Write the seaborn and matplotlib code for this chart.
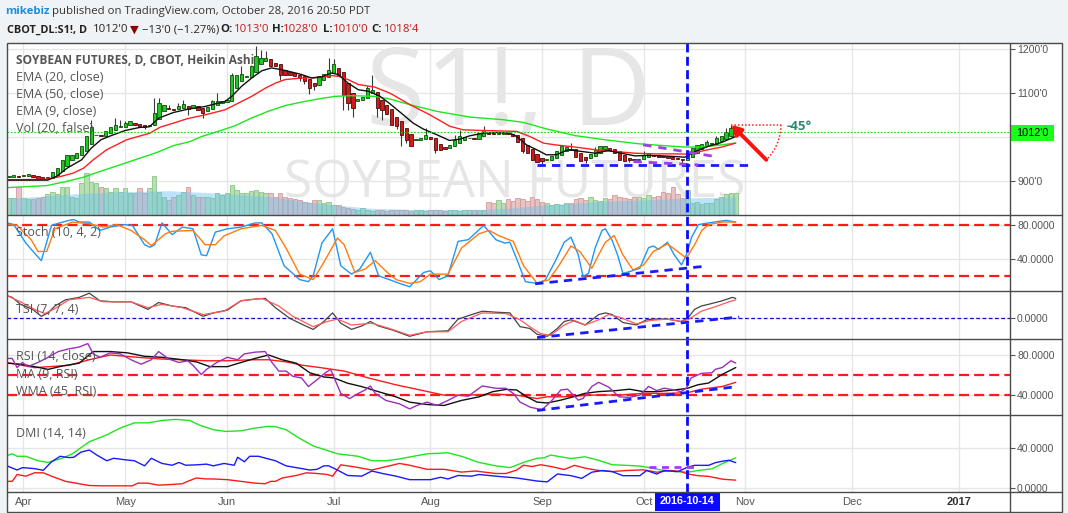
import numpy as np
import pandas as pd
import matplotlib
matplotlib.use("Agg")
import matplotlib.pyplot as plt
from matplotlib.lines import Line2D
from matplotlib.patches import Rectangle
import seaborn as sns

sns.set_theme(style="white")
plt.rcParams['font.family'] = ['Open Sans', 'DejaVu Sans']

# ---------------- calendar ----------------
holidays = pd.to_datetime(["2016-05-30", "2016-07-04", "2016-09-05"])
trade_days = pd.bdate_range("2016-03-29", "2016-10-28")
trade_days = trade_days[~trade_days.isin(holidays)]
future_days = pd.bdate_range("2016-10-31", "2017-01-31")
calendar = trade_days.append(future_days)
origin = calendar.get_loc(pd.Timestamp("2016-04-01"))
month_keys = ["2016-04", "2016-05", "2016-06", "2016-07", "2016-08", "2016-09",
              "2016-10", "2016-11", "2016-12", "2017-01"]
month_labels = ["Apr", "May", "Jun", "Jul", "Aug", "Sep", "Oct", "Nov", "Dec", "2017"]
ym = np.array(calendar.strftime("%Y-%m"))
month_pos = [int(np.argmax(ym == m)) - origin for m in month_keys]

# ---------------- Heikin Ashi data (first bar = 2016-03-29) ----------------
ha_close = [
    913, 913.5, 911, 915, 916.5, 909, 906.5, 906, 909.5, 922.5,
    930, 947.5, 960.5, 960.5, 964, 979.5, 1002, 1023.5, 1005, 1002,
    1015.5, 1023.5, 1028.5, 1026.5, 1032.5, 1037.5, 1028, 1026.5, 1022.5, 1028.5,
    1055, 1078, 1073.5, 1064, 1062.5, 1070.5, 1075.5, 1064, 1072.5, 1062.5,
    1055, 1068, 1081.5, 1081.5, 1083, 1085.5, 1142.5, 1142.5, 1144.5, 1138.5,
    1161, 1184, 1180, 1180, 1162.5, 1161, 1141.5, 1142.5, 1142.5, 1138.5,
    1134.5, 1127, 1112, 1115.5, 1140, 1144, 1153.5, 1167.5, 1138.5, 1097,
    1078, 1066.5, 1087, 1091.5, 1112, 1106.5, 1066.5, 1062.5, 1053.5, 1028.5,
    1026.5, 1006, 994.5, 979.5, 996, 998.5, 1006, 996, 972, 972,
    973.5, 983, 994.5, 1002, 1000.5, 999, 996, 1009.5, 1017.5, 1008,
    1006.5, 1008, 1011, 1006.5, 1002, 990.5, 968, 964, 949, 943,
    945.5, 949, 958, 968, 979.5, 978, 972, 956.5, 945.5, 949,
    962, 972, 981, 979.5, 972, 964, 949, 945.5, 949, 947.5,
    952, 960.5, 965.5, 958, 956.5, 956, 953, 951.5, 950.5, 947.5,
    960.5, 975.5, 983, 985.5, 988.5, 987, 998.5, 1002, 1011, 1021,
    1017]
ha_first_open = 909
wick_high = {14: 1040, 19: 1044, 20: 1040, 21: 1038, 27: 1089, 28: 1089, 30: 1074, 32: 1078,
             33: 1085, 39: 1085, 40: 1100, 43: 1146, 45: 1161, 47: 1165, 48: 1208, 49: 1199,
             50: 1195, 63: 1180, 64: 1178, 71: 1116, 72: 1142, 83: 1021, 89: 1006, 90: 1017,
             95: 1026, 110: 968, 113: 987, 118: 979, 128: 968, 141: 994, 143: 1002, 145: 1021,
             146: 1029}
wick_low = {25: 1019, 34: 1051, 37: 1044, 53: 1131, 57: 1127, 58: 1122, 59: 1099, 60: 1108,
            66: 1063, 67: 1063, 68: 1046, 73: 1047, 74: 1040, 77: 1019, 78: 981, 79: 987,
            85: 964, 103: 964, 107: 938, 116: 941, 125: 943, 136: 938}
volume = [
    97, 97, 167, 97, 91, 91, 97, 107, 123, 137,
    123, 167, 167, 107, 97, 187, 247, 197, 187, 167,
    157, 137, 157, 137, 157, 127, 127, 157, 127, 157,
    231, 137, 107, 87, 107, 117, 137, 167, 117, 107,
    107, 107, 97, 127, 117, 127, 177, 147, 127, 127,
    143, 147, 137, 127, 127, 107, 127, 107, 97, 91,
    87, 77, 71, 87, 87, 67, 77, 57, 57, 47,
    37, 31, 27, 37, 27, 23, 25, 30, 22, 28,
    25, 30, 27, 24, 28, 26, 22, 30, 25, 27,
    24, 29, 26, 23, 28, 25, 30, 27, 26, 77,
    67, 87, 71, 91, 83, 97, 91, 83, 107, 91,
    77, 67, 57, 63, 57, 71, 67, 91, 97, 87,
    107, 87, 83, 97, 91, 117, 107, 97, 91, 103,
    107, 97, 117, 107, 111, 137, 127, 167, 123, 97,
    147, 67, 77, 63, 71, 67, 91, 107, 123, 127,
    127]
vma_x = [-3, 10, 20, 30, 34, 41, 51, 61, 68, 72, 80, 95, 100, 105, 110, 120, 130, 137, 147]
vma_y = [97, 123, 137, 143, 137, 127, 107, 67, 47, 37, 31, 31, 38, 50, 63, 80, 90, 100, 105]

ema9_x = [-3.3, 5, 7, 9, 12, 14, 16, 18, 21, 24, 26, 28, 31, 34, 37.5, 41.6, 43, 45, 47.1, 49.2,
          51.2, 53.3, 55.4, 57.4, 59.5, 61.5, 63.6, 65, 67, 69.1, 71.2, 73.6, 75.6, 78.4, 80.4,
          82.5, 85.3, 87.9, 90.1, 92.1, 94.9, 97.6, 100.4, 101.8, 103.8, 105.9, 107.9, 110,
          112.4, 115.2, 118, 120.7, 123.4, 126.2, 128.9, 131.7, 134.4, 136.5, 138.6, 141.3,
          144.1, 147]
ema9_y = [903, 903, 912.5, 930, 949, 975.5, 994.5, 1003.5, 1015.5, 1022.5, 1024, 1044, 1056.5,
          1064, 1070, 1081.5, 1093, 1115.5, 1134.5, 1151, 1157.5, 1153.5, 1148, 1142.5, 1134.5,
          1137, 1146, 1142.5, 1123, 1108, 1104.5, 1093, 1076.5, 1051, 1032.5, 1019, 1006, 993,
          996, 1003.5, 1009.5, 1011, 1009.5, 1002, 983, 972, 960.5, 960.5, 972, 968, 964, 970,
          964, 958, 959, 958, 956.5, 955, 968, 979.5, 988.5, 1002]
ema20_x = [-3.3, 4.8, 7.6, 10.3, 12.4, 14.4, 17.2, 21.3, 26.1, 28.2, 30.9, 33.7, 37.5, 41.6,
           43.7, 47.1, 50, 52.1, 54, 57.4, 60.8, 63.6, 65, 67, 69.1, 72.5, 75.6, 79.8, 83.9, 88,
           90.8, 94.9, 101.8, 104.5, 107.3, 109.7, 113.8, 117.9, 122, 126.2, 130.3, 134.4,
           136.5, 138.6, 141.3, 144.1, 147]
ema20_y = [903.5, 905, 911, 919, 930, 949, 972, 994.5, 1009.5, 1023, 1032, 1042, 1051, 1062.5,
           1074, 1093, 1112, 1123.5, 1131, 1134.5, 1136, 1140, 1138.5, 1131, 1120, 1114, 1100.5,
           1074, 1051, 1025, 1017, 1015.5, 1013.5, 1002, 987, 983, 978, 972, 968, 964, 962.5,
           962.5, 962, 965.5, 972, 978, 987]
ema50_x = [-3.3, 4.8, 8.9, 12.4, 15.8, 19.9, 24.1, 27.5, 30.9, 34.4, 36.8, 40.2, 43.7, 47.1,
           50.5, 54, 57.4, 60.8, 64.3, 67.7, 72.5, 75.6, 79.8, 85.3, 92.1, 99, 103.1, 108,
           113.8, 120, 126.9, 132.4, 136.5, 139.3, 142.7, 146.8]
ema50_y = [886, 890.5, 900, 909.5, 922.5, 937.5, 953, 965.5, 981, 990.5, 1002, 1013.5, 1026.5,
           1044, 1059, 1072, 1080, 1087, 1093, 1094.5, 1093, 1087, 1074, 1059, 1046, 1040, 1034,
           1019, 1004, 994.5, 985.5, 981, 978, 978, 981, 987]

# ---------------- Stochastic ----------------
stoch_k_x = [-3.4, -2.0, 0.5, 2.6, 3.7, 5.8, 6.9, 9.4, 10.4, 11.5, 13.6, 15.8, 17.9, 20.8, 22.5,
             25.0, 26.1, 27.1, 28.6, 30.7, 32.8, 35.0, 36.7, 37.8, 39.6, 42.1, 44.9, 47.8, 49.2,
             51.3, 53.8, 57.0, 58.8, 59.8, 61.6, 63.8, 65.5, 67.7, 69.4, 71.6, 73.3, 75.5, 77.6,
             79.7, 82.6, 84.0, 85.8, 87.6, 89.7, 91.8, 95.0, 97.5, 99.3, 100.4, 101.8, 103.6,
             106.0, 107.7, 109.9, 111.6, 113.0, 114.5, 115.5, 116.6, 118.0, 119.4, 120.1, 121.5,
             122.6, 123.7, 125.1, 127.2, 129.0, 130.0, 131.1, 132.9, 134.3, 135.8, 136.8, 137.9,
             139.3, 141.4, 145.0, 147.0]
stoch_k_y = [83, 81, 59, 45, 38, 80, 82, 86, 87, 84, 84, 74, 78, 81, 80, 57, 54, 57, 83, 69, 78,
             76, 45, 44, 72, 76, 78, 83, 83, 70, 32, 15.5, 13, 20, 59, 76, 32, 22, 28, 48, 20,
             15.5, 11, 7, 24, 26, 15.5, 20, 61, 63, 80, 63, 59, 60, 40, 13, 11, 15, 39, 60, 66,
             45, 19, 23, 53.5, 74, 76, 62, 45, 23, 25, 29, 53.5, 55.5, 51.5, 60, 45, 33, 45, 66,
             81, 83, 86, 84]
stoch_d_x = [-3.4, -1.3, 1.6, 3.0, 4.8, 6.5, 10.1, 13.6, 16.5, 19.3, 22.2, 25.0, 26.4, 29.3,
             30.7, 35.0, 37.5, 39.6, 41.4, 44.9, 49.2, 52.0, 54.2, 57.0, 59.8, 62.0, 64.8, 66.2,
             68.4, 70.5, 72.6, 75.1, 76.9, 79.7, 81.9, 84.0, 87.6, 90.4, 94.0, 96.1, 98.2, 101.1,
             103.2, 106.0, 106.7, 108.4, 110.6, 113.0, 114.8, 117.3, 118.7, 120.1, 121.9, 123.7,
             125.8, 128.0, 130.0, 132.9, 135.0, 136.8, 138.6, 140.0, 141.4, 144.2, 147.0]
stoch_d_y = [81, 80, 63, 49, 49, 76, 84, 82, 78, 81, 74, 63, 56, 70, 73, 74, 57, 57, 67.5, 76,
             80, 74, 53, 22, 15.5, 36, 65, 57, 24, 28, 38, 24, 15.5, 11, 13, 22, 22, 53, 70, 74,
             67.5, 61, 32, 11, 13, 15, 33, 55.5, 49, 29, 45, 60, 68, 45, 27, 33, 49, 58, 49, 41,
             58, 74, 81, 84, 84]

# ---------------- TSI ----------------
tsi_x = [-3.4, -2.3, -0.6, 1.9, 3.7, 5.1, 6.5, 8.7, 11.5, 13.6, 15.8, 18.6, 22.2, 25.7, 27.9,
         30.7, 33.5, 37.1, 39.2, 42.1, 44.9, 47.8, 49.9, 52.0, 54.9, 57.0, 59.8, 62.0, 63.8,
         65.5, 67.7, 69.8, 71.6, 73.3, 76.2, 79.7, 83.3, 87.6, 89.7, 92.5, 94.7, 97.5, 100.4,
         102.5, 104.5, 106.0, 108.1, 110.2, 111.6, 113.0, 115.9, 118.7, 120.1, 121.5, 123.7,
         126.5, 128.6, 130.0, 132.9, 135.7, 137.1, 138.5, 139.9, 141.4, 144.2, 146.3, 147.0]
tsi_y = [22.8, 21, 14.1, 9, 2.1, 5.5, 12.4, 18.6, 21, 25.2, 17.6, 16.6, 16.6, 9, 15.9, 12.4,
         10.7, 2.1, 5.5, 8.3, 17.6, 19.3, 20, 10.7, 0.3, -4.8, -11, -3.1, 5.5, -4.8, -11, -7.6,
         -3.1, -7.6, -11.7, -17.9, -13.4, -12.4, -0.7, 3.8, 7.2, 6.2, 5.5, -8.3, -10, -15.9,
         -17.9, -10, -3.1, -1.4, -6.6, 3.8, 5.5, 3.8, -4.1, -6.6, -1.4, -0.7, -0.7, -3.1, 0.3,
         9, 12.4, 14.1, 17.6, 21, 20]
tsi_sig_x = [-3.4, -0.6, 2.3, 4.4, 6.5, 9.4, 13.6, 16.5, 22.2, 25.7, 28.6, 32.8, 37.1, 41.4,
             44.9, 49.2, 52.7, 55.6, 59.8, 62.7, 64.8, 67.7, 71.9, 75.5, 79.7, 83.3, 87.6, 90.4,
             94.7, 99.6, 102.5, 104.5, 106.7, 108.8, 111.6, 113.7, 115.9, 118.7, 120.8, 122.9,
             126.5, 129.3, 132.9, 135.7, 137.1, 139.9, 142.8, 145.6, 147.0]
tsi_sig_y = [22.8, 16.6, 9, 4.8, 9.7, 18.6, 21, 16.6, 16.6, 10.7, 14.1, 10.7, 3.8, 7.2, 17.6,
             20, 12.4, 2.1, -8.3, -3.1, -0.7, -6.6, -4.8, -10, -16.9, -13.4, -13.4, -3.1, 5.5,
             4.8, -1.4, -8.3, -15.2, -16.9, -6.6, -2.1, -6.6, -1.4, 3.8, 1.4, -5.5, -2.1, -0.7,
             -3.1, -1.4, 7.2, 11.7, 16.6, 18.6]

# ---------------- RSI ----------------
rsi_x = [-3.4, -2.3, -1.3, -0.2, 0.9, 3.0, 5.1, 7.2, 9.4, 11.5, 13.3, 14.4, 15.8, 17.9, 20.0,
         22.2, 24.3, 26.4, 27.9, 30.0, 32.1, 33.9, 35.0, 36.7, 37.8, 39.9, 42.1, 44.2, 45.6,
         47.8, 49.9, 51.3, 52.7, 54.2, 55.6, 57.4, 58.8, 60.6, 62.3, 63.4, 65.5, 67.3, 69.1,
         70.5, 71.6, 72.6, 74.8, 77.6, 79.7, 81.2, 83.3, 85.4, 87.6, 89.7, 91.8, 94.7, 97.5,
         99.6, 101.1, 102.5, 104.6, 107.0, 108.8, 110.9, 112.3, 114.5, 115.5, 117.3, 118.7,
         120.8, 122.9, 125.1, 127.2, 129.0, 130.7, 132.2, 134.3, 135.7, 136.8, 137.8, 139.9,
         142.1, 142.8, 144.2, 146.0, 147.0]
rsi_y = [76.5, 76.5, 67.4, 72.5, 68.4, 72.5, 77.6, 83.3, 86, 87.8, 91.2, 81, 77.6, 82, 81, 75.2,
         70.8, 75.2, 83.3, 75.9, 72.5, 74.2, 69.7, 60.6, 65.7, 72.5, 77.6, 75.2, 81, 82.7, 83.3,
         72.5, 64, 64, 58.8, 57.2, 48.7, 55.5, 62.3, 65.7, 41.9, 36.8, 41.9, 45.3, 49.3, 41.9,
         35, 31.6, 26.6, 30, 33.3, 30, 35, 40.2, 39.2, 49.3, 47, 47, 41.9, 33.3, 28.3, 25.8,
         33.6, 45.4, 46.1, 35.3, 37, 48.8, 52.9, 48.1, 38.6, 38, 40.3, 48.8, 44.7, 47.1, 45.4,
         43.7, 47.1, 57.3, 61.7, 62.4, 65.8, 67.5, 74.2, 71.9]
rsi_ma_x = [-3.4, -0.6, 2.3, 5.1, 8.0, 11.5, 14.4, 17.9, 21.5, 25.0, 28.6, 32.8, 35.7, 38.5,
            42.1, 44.9, 47.8, 50.6, 53.4, 56.3, 59.1, 62.0, 64.1, 66.9, 69.8, 73.3, 76.9, 79.7,
            83.3, 86.8, 90.4, 94.0, 96.8, 99.6, 101.8, 103.9, 106.0, 108.1, 110.9, 113.0, 115.9,
            118.7, 122.3, 125.1, 127.9, 130.7, 132.9, 135.7, 137.1, 139.2, 141.4, 144.2, 147.0]
rsi_ma_y = [71.8, 70.8, 68.4, 65.7, 69, 71.8, 83.3, 83.3, 82, 78.6, 77.6, 75.2, 73.1, 68.4, 68.4,
            72.5, 76.5, 79.9, 75.2, 71.8, 62.3, 58.2, 57.2, 52, 48.7, 43.6, 38.5, 33.3, 31, 30,
            35, 38.5, 43.6, 45.9, 45.3, 38.5, 33.3, 32.5, 35.3, 38, 42, 43.7, 44.7, 46.1, 43.7,
            43.7, 44.7, 46.1, 47.1, 50.5, 52.2, 60.7, 67.5]
rsi_wma_x = [-3.4, 2.3, 9.4, 13.6, 17.9, 23.6, 28.6, 32.8, 37.8, 42.1, 47.1, 50.6, 54.2, 57.7,
             61.3, 66.2, 71.2, 76.9, 81.9, 86.8, 91.1, 97.5, 101.8, 106.0, 108.1, 111.6, 117.3,
             122.9, 127.9, 132.9, 137.1, 139.9, 144.2, 147.0]
rsi_wma_y = [72.5, 67.4, 69.7, 75.2, 79.9, 77.6, 75.9, 75.2, 74.2, 74.2, 75.2, 75.2, 73.1, 69.7,
             67.4, 64, 57.2, 50.4, 45.3, 40.2, 40.2, 41.2, 40.2, 36.8, 38.6, 38.6, 40.3, 40.3, 42,
             42, 42.7, 46.1, 48.8, 52.9]

# ---------------- DMI ----------------
adx_x = [-3.4, -2.3, -1.3, 0.5, 3.0, 5.1, 8.0, 10.1, 13.6, 17.2, 20.0, 22.9, 25.7, 28.6, 31.4,
         34.3, 36.4, 39.2, 41.7, 44.9, 47.8, 50.6, 52.0, 54.2, 57.0, 59.8, 62.7, 64.8, 69.1,
         71.9, 74.8, 77.6, 80.5, 83.3, 87.6, 90.4, 94.0, 97.5, 100.4, 103.2, 106.0, 107.4,
         108.8, 110.9, 113.0, 115.9, 118.7, 121.5, 124.4, 127.2, 128.6, 131.4, 134.3, 137.1,
         139.2, 142.1, 144.2, 147.0]
adx_y = [32.6, 34.4, 31.9, 31.9, 27.4, 25.7, 29.9, 34.4, 46.5, 53.4, 60.3, 65.5, 65.5, 67.9, 69,
         67.9, 63.1, 58.6, 56.9, 57.5, 60.3, 62, 61.7, 58.6, 49.9, 42.3, 37.8, 34.4, 31.9, 27.4,
         27.4, 29.2, 31.9, 34.4, 35.4, 31.9, 25.7, 22.3, 20.5, 25.7, 29.9, 30.3, 33.1, 31.4,
         29.7, 31.4, 27.9, 23.4, 22.8, 22.1, 21, 18.3, 16.6, 15.9, 17.6, 19.3, 24.5, 30.3]
pdi_x = [-3.4, -1.3, -0.2, 2.3, 4.1, 5.8, 7.6, 9.4, 10.4, 11.9, 13.6, 15.1, 17.2, 18.6, 20.8,
         22.9, 25.0, 26.4, 28.6, 30.7, 32.1, 33.5, 35.7, 37.8, 39.2, 41.4, 43.5, 44.2, 45.6,
         46.7, 48.5, 50.6, 52.0, 54.2, 56.3, 59.1, 60.6, 62.0, 63.0, 64.8, 66.9, 69.8, 71.9,
         74.1, 76.9, 79.7, 84.0, 86.1, 87.6, 89.7, 92.5, 94.0, 97.5, 101.8, 106.0, 108.1, 110.2,
         113.0, 115.2, 117.3, 119.4, 121.5, 123.7, 127.2, 128.6, 130.7, 132.2, 135.0, 137.1,
         138.5, 141.4, 142.8, 144.2, 145.6, 147.0]
pdi_y = [22.3, 18.1, 20.5, 19.5, 17.8, 26.4, 31.9, 30.6, 30.9, 36.1, 38.2, 33.3, 27.4, 29.9,
         28.5, 27.4, 22.3, 29.9, 24.7, 22.9, 25.7, 22.9, 23.3, 24, 22.3, 24.7, 22.9, 30.9, 26.4,
         31.9, 31.9, 29.2, 27.4, 22.3, 20.5, 18.1, 18.8, 22.3, 22.3, 18.1, 12.6, 11.9, 17.1,
         14.6, 11.9, 8.4, 8.4, 10.8, 9.1, 12.6, 11.9, 13.6, 11.9, 10.1, 7, 6.2, 14.1, 12.4, 9.7,
         15.9, 17.6, 16.5, 12.4, 12.4, 17.6, 14.1, 17.6, 16.5, 21, 22.8, 22.8, 25.5, 26.9, 27.9,
         25.5]
mdi_x = [-3.4, -2.3, -1.3, 0.5, 2.3, 4.1, 5.8, 8.7, 10.8, 13.6, 16.5, 19.3, 22.5, 23.6, 25.7,
         27.9, 30.7, 32.8, 33.9, 35.7, 37.8, 39.2, 42.1, 44.9, 47.8, 49.9, 51.0, 52.0, 53.4,
         56.3, 58.4, 60.6, 62.7, 63.8, 65.5, 68.4, 71.9, 77.6, 79.7, 83.3, 86.8, 90.4, 93.2,
         97.5, 99.6, 101.8, 103.2, 105.0, 106.7, 108.8, 111.6, 113.7, 115.9, 118.7, 121.5,
         124.4, 127.9, 130.7, 133.6, 135.7, 137.1, 139.2, 141.4, 144.2, 147.0]
mdi_y = [6.7, 6.7, 13.6, 11.9, 15.3, 15.3, 11.9, 6.7, 4.9, 2.5, 2.2, 2.2, 2.2, 4.9, 4.9, 2.9,
         3.6, 4.3, 6.7, 10.1, 9.1, 9.1, 8.4, 6.7, 4.9, 4.3, 6.7, 6.7, 10.1, 12.6, 15.3, 14.6,
         13.6, 11.9, 23.3, 21.2, 18.1, 24.7, 22.9, 18.8, 18.8, 16, 17.1, 14.6, 14.6, 18.1, 22.9,
         21.6, 23.4, 21.7, 18.6, 22.8, 20, 17.6, 16.5, 17.6, 18.3, 15.9, 17.6, 16.5, 14.1, 12.4,
         11.7, 8.9, 7.9]

# ---------------- annotations (chart drawings) ----------------
support_x, support_y = [106.0, 150.5], [937.5, 937.5]
wedge_up_x, wedge_up_y = [127.9, 142.7], [983, 956.5]
wedge_lo_x, wedge_lo_y = [125.9, 139.3], [945, 937.5]
angle_from = (146.1, 1028.6)
angle_to = (153.3, 949.0)
stoch_trend_x, stoch_trend_y = [105.6, 140.0], [10.5, 31]
tsi_trend_x, tsi_trend_y = [106.0, 147.7], [-19.2, 1.4]
rsi_trend_x, rsi_trend_y = [106.0, 146.3], [25.1, 48.1]
dmi_flat_x, dmi_flat_y = [129.0, 138.5], [21, 21]
marker_bar = 137
last_price = 1012

# ---------------- figure ----------------
W, H = 1068, 513
fig = plt.figure(figsize=(W / 100, H / 100), dpi=100)
fig.patch.set_facecolor('#f0f3f5')


def fx(x):
    return x / W


def fy(y):
    return 1 - y / H


L, R, AR = 7, 1010, 1062
TOP, BOT = 43, 511.5
bounds = [43, 214.5, 290.6, 338.5, 415, 491.7]
XMIN = (L - 23.4) / 4.846
XMAX = (R - 23.4) / 4.846

fig.add_artist(Rectangle((fx(L), fy(BOT)), fx(AR - L), (BOT - TOP) / H,
                         transform=fig.transFigure, facecolor='white', edgecolor='none', zorder=-5))

ylims = [(825, 1214), (2.4, 93), (-20.1, 27.8), (20.6, 96.2), (-3.7, 73.4)]
yticks = [[900, 1000, 1100, 1200], [40, 80], [0], [40, 80], [0, 40]]
# the 1000'0 label is hidden behind the last-price tag in the reference
ytlabels = [["900'0", "", "1100'0", "1200'0"], ["40.0000", "80.0000"], ["0.0000"],
            ["40.0000", "80.0000"], ["0.0000", "40.0000"]]


def style_y(ax, k):
    ax.set_ylim(*ylims[k])
    ax.set_yticks(yticks[k])
    ax.set_yticklabels(ytlabels[k])
    ax.yaxis.tick_right()
    ax.yaxis.set_label_position('right')
    ax.tick_params(axis='y', which='both', left=False, right=True, labelleft=False,
                   labelright=True, length=3.6, width=0.8, color='#555555',
                   labelsize=7.5, labelcolor='#555555', pad=1.5, direction='out')
    for lab in ax.get_yticklabels():
        lab.set_family('Liberation Sans')


axes = []
for k in range(5):
    ax = fig.add_axes([fx(L), fy(bounds[k + 1]), fx(R - L), (bounds[k + 1] - bounds[k]) / H])
    ax.set_facecolor('none')
    for s in ax.spines.values():
        s.set_visible(False)
    ax.set_xlim(XMIN, XMAX)
    ax.set_xticks(month_pos)
    style_y(ax, k)
    ax.grid(True, color='#e6e6e6', lw=1.0, zorder=0)
    ax.set_axisbelow(True)
    if k < 4:
        ax.tick_params(axis='x', length=0, labelbottom=False)
    else:
        ax.set_xticklabels(month_labels)
        ax.tick_params(axis='x', length=0, labelsize=8, labelcolor='#555555', pad=4)
        for lab in ax.get_xticklabels():
            lab.set_family('Liberation Sans')
            if lab.get_text() == '2017':
                lab.set_fontweight('bold')
                lab.set_color('#333333')
    axes.append(ax)
ax_p, ax_s, ax_t, ax_r, ax_d = axes

# ---- watermark ----
ax_p.text(fx(508), fy(97), "S1!, D", transform=fig.transFigure, fontsize=78, color='#e6e6e6',
          ha='center', va='center', zorder=0.5)
ax_p.text(fx(515), fy(184), "SOYBEAN FUTURES", transform=fig.transFigure, fontsize=37,
          color='#e6e6e6', ha='center', va='center', zorder=0.5)

# ---- volume (overlay axis) ----
ax_v = fig.add_axes(ax_p.get_position(), sharex=ax_p)
ax_v.set_facecolor('none')
ax_v.set_ylim(0, 1030)
ax_v.axis('off')
n = len(ha_close)
bar_x = np.arange(n) - 3
ha_open = [ha_first_open]
for k in range(1, n):
    ha_open.append((ha_open[-1] + ha_close[k - 1]) / 2)
ha_open = np.array(ha_open)
ha_cl = np.array(ha_close, dtype=float)
up = ha_cl >= ha_open
vol_col = np.where(up, '#b8dfb4', '#e9c3c3')
vol_edge = np.where(up, '#8cc488', '#d29c9c')
ax_v.bar(bar_x, volume, width=0.92, color=vol_col, edgecolor=vol_edge, linewidth=0.6, zorder=1)
ax_v.fill_between(vma_x, vma_y, 0, color='#6cc2ee', alpha=0.45, lw=0, zorder=2)
ax_v.set_xlim(XMIN, XMAX)

# ---- candles (drawn on top of volume overlay) ----
ax_c = fig.add_axes(ax_p.get_position(), sharex=ax_p)
ax_c.set_facecolor('none')
ax_c.set_ylim(*ylims[0])
ax_c.axis('off')
body_lo = np.minimum(ha_open, ha_cl)
body_hi = np.maximum(ha_open, ha_cl)
hi = np.array([max(wick_high.get(i, body_hi[k]), body_hi[k]) for k, i in enumerate(bar_x)])
lo = np.array([min(wick_low.get(i, body_lo[k]), body_lo[k]) for k, i in enumerate(bar_x)])
ax_c.vlines(bar_x, lo, hi, color='#3a3a3a', lw=0.8, zorder=3)
heights = np.maximum(body_hi - body_lo, 1.0)
ax_c.bar(bar_x, heights, bottom=body_lo, width=0.68,
         color=np.where(up, '#22c822', '#d21a1a'),
         edgecolor=np.where(up, '#0b4d0b', '#4d0b0b'), linewidth=0.6, zorder=4)

# ---- EMAs ----
sns.lineplot(x=ema50_x, y=ema50_y, ax=ax_c, color='#1ee61e', lw=1.0, zorder=5)
sns.lineplot(x=ema20_x, y=ema20_y, ax=ax_c, color='#ff2020', lw=1.0, zorder=5)
sns.lineplot(x=ema9_x, y=ema9_y, ax=ax_c, color='#111111', lw=1.0, zorder=5)

# ---- price drawings ----
ax_c.axhline(last_price, color='#22cc22', lw=0.8, ls=(0, (1.5, 1.5)), zorder=5)
sns.lineplot(x=support_x, y=support_y, ax=ax_c, color='#1a1aff', lw=2.0,
             linestyle=(0, (3, 2.2)), zorder=6)
sns.lineplot(x=wedge_up_x, y=wedge_up_y, ax=ax_c, color='#a23cf0', lw=2.0,
             linestyle=(0, (3, 2.5)), zorder=6)
sns.lineplot(x=wedge_lo_x, y=wedge_lo_y, ax=ax_c, color='#a23cf0', lw=2.0,
             linestyle=(0, (3, 2.5)), zorder=6)
rpx = 49.5
theta = np.linspace(0, -np.pi / 4, 30)
arc_x = angle_from[0] + rpx * np.cos(theta) / 4.846
arc_y = angle_from[1] + rpx * np.sin(theta) / 0.44
ax_c.plot([angle_from[0], arc_x[0]], [angle_from[1], angle_from[1]], color='#ff2020', lw=1.1,
          ls=(0, (1, 1.3)), zorder=6)
ax_c.plot(arc_x, arc_y, color='#ff2020', lw=1.1, ls=(0, (1, 1.3)), zorder=6)
ax_c.annotate("", xy=angle_from, xytext=angle_to,
              arrowprops=dict(arrowstyle="-|>,head_length=0.45,head_width=0.25", color='#ff1010',
                              lw=2.8, shrinkA=0, shrinkB=0), zorder=7)
ax_c.text(157.4, 1024, "-45°", color='#2a8a74', fontsize=9.5, fontweight='bold', ha='left',
          va='center', zorder=7)

# ---- Stochastic ----
for lvl in (80, 20):
    ax_s.axhline(lvl, color='#ff1a1a', lw=1.6, ls=(0, (4.5, 2.3)), zorder=2)
sns.lineplot(x=stoch_k_x, y=stoch_k_y, ax=ax_s, color='#2196f3', lw=1.0, zorder=3)
sns.lineplot(x=stoch_d_x, y=stoch_d_y, ax=ax_s, color='#ff7a10', lw=1.0, zorder=3)
sns.lineplot(x=stoch_trend_x, y=stoch_trend_y, ax=ax_s, color='#1a1aff', lw=2.0,
             linestyle=(0, (3, 2.2)), zorder=4)

# ---- TSI ----
ax_t.axhline(0, color='#1010c8', lw=0.9, ls=(0, (3, 2)), zorder=2)
sns.lineplot(x=tsi_x, y=tsi_y, ax=ax_t, color='#444444', lw=0.9, zorder=3)
sns.lineplot(x=tsi_sig_x, y=tsi_sig_y, ax=ax_t, color='#ff5a5a', lw=0.9, zorder=3)
sns.lineplot(x=tsi_trend_x, y=tsi_trend_y, ax=ax_t, color='#1a1aff', lw=2.0,
             linestyle=(0, (3, 2.2)), zorder=4)

# ---- RSI ----
for lvl in (60, 40):
    ax_r.axhline(lvl, color='#ff1a1a', lw=1.6, ls=(0, (4.5, 2.3)), zorder=2)
sns.lineplot(x=rsi_wma_x, y=rsi_wma_y, ax=ax_r, color='#ff1a1a', lw=1.0, zorder=3)
sns.lineplot(x=rsi_ma_x, y=rsi_ma_y, ax=ax_r, color='#111111', lw=1.0, zorder=3)
sns.lineplot(x=rsi_x, y=rsi_y, ax=ax_r, color='#9b30b8', lw=1.0, zorder=3)
sns.lineplot(x=rsi_trend_x, y=rsi_trend_y, ax=ax_r, color='#1a1aff', lw=2.0,
             linestyle=(0, (3, 2.2)), zorder=4)

# ---- DMI ----
sns.lineplot(x=adx_x, y=adx_y, ax=ax_d, color='#1ee61e', lw=1.0, zorder=3)
sns.lineplot(x=mdi_x, y=mdi_y, ax=ax_d, color='#ff1a1a', lw=1.0, zorder=3)
sns.lineplot(x=pdi_x, y=pdi_y, ax=ax_d, color='#1a1aff', lw=1.0, zorder=3)
sns.lineplot(x=dmi_flat_x, y=dmi_flat_y, ax=ax_d, color='#a23cf0', lw=2.0,
             linestyle=(0, (2.5, 2)), zorder=4)

for k, ax in enumerate(axes):
    ax.set_xlim(XMIN, XMAX)
    style_y(ax, k)
    ax.set_xlabel('')
    ax.set_ylabel('')
    leg = ax.get_legend()
    if leg:
        leg.remove()
ax_c.set_xlim(XMIN, XMAX)
ax_c.set_ylim(*ylims[0])
ax_c.axis('off')

# ---- vertical marker line through all panels ----
xm = fig.transFigure.inverted().transform(ax_p.transData.transform((marker_bar, 1000)))[0]
fig.add_artist(Line2D([xm, xm], [fy(TOP), fy(bounds[-1])], transform=fig.transFigure,
                      color='#0a0aff', lw=2.0, ls=(0, (3.2, 1.6)), zorder=8))
xp = xm * W
fig.add_artist(Rectangle((fx(xp - 32.5), fy(511)), 65 / W, 19.5 / H, transform=fig.transFigure,
                         facecolor='#0a0aff', edgecolor='none', zorder=9))
fig.text(fx(xp), fy(501.5), "2016-10-14", color='white', fontsize=7.8, fontweight='bold',
         ha='center', va='center', family='Liberation Sans', zorder=10)

# ---- last price label ----
fig.add_artist(Rectangle((fx(R), fy(141)), 44 / W, 16 / H, transform=fig.transFigure,
                         facecolor='#19ff19', edgecolor='none', zorder=9))
fig.text(fx(1016.5), fy(133), "1012'0", color='black', fontsize=7.8, ha='left', va='center',
         family='Liberation Sans', zorder=10)

# ---- frames / separators ----
fc = '#4a4a4a'
for yb in bounds[1:]:
    fig.add_artist(Line2D([fx(L), fx(AR)], [fy(yb), fy(yb)], transform=fig.transFigure,
                          color=fc, lw=1.0, zorder=11))
fig.add_artist(Line2D([fx(R), fx(R)], [fy(TOP), fy(BOT)], transform=fig.transFigure,
                      color=fc, lw=1.0, zorder=11))
fig.add_artist(Rectangle((fx(L), fy(BOT)), fx(AR - L), (BOT - TOP) / H, transform=fig.transFigure,
                         facecolor='none', edgecolor=fc, lw=1.0, zorder=11))

# ---- panel titles ----
tc = '#555555'
fig.text(fx(16), fy(60.7), "SOYBEAN FUTURES, D, CBOT, Heikin Ashi", color=tc, fontsize=8.6,
         fontweight='bold', va='center', zorder=12)
for yy, t in [(77.7, "EMA (20, close)"), (94.3, "EMA (50, close)"), (111.7, "EMA (9, close)"),
              (129, "Vol (20, false)"), (232.4, "Stoch (10, 4, 2)"), (309.2, "TSI (7, 7, 4)"),
              (356.3, "RSI (14, close)"), (374.6, "MA (9, RSI)"), (391.8, "WMA (45, RSI)"),
              (433.1, "DMI (14, 14)")]:
    fig.text(fx(15.5), fy(yy), t, color=tc, fontsize=9, va='center', zorder=12)

# ---- header ----
hs = 8.2
fig.text(fx(5), fy(11.7), "mikebiz", color='#1f8dd6', fontsize=hs, fontweight='bold',
         va='center')
fig.text(fx(52), fy(11.7), "published on TradingView.com, October 28, 2016 20:50 PDT",
         color='#333333', fontsize=hs, va='center')
hy = fy(30)
fig.text(fx(6.7), hy, "CBOT_DL:S1!, D", color='#222222', fontsize=7.8, fontweight='bold',
         va='center')
fig.text(fx(93), hy, "1012'0", color='#222222', fontsize=hs, va='center')
fig.text(fx(130), hy, "▼", color='#8b0000', fontsize=hs, va='center', family=['DejaVu Sans'])
fig.text(fx(141.7), hy, "\u221213'0 (\u22121.27%)", color='#222222', fontsize=hs, va='center',
         family=['Open Sans', 'DejaVu Sans'])
for xx, lab, xv, val in [(220.7, "O:", 233.5, "1013'0"), (271.7, "H:", 282.5, "1028'0"),
                         (322.7, "L:", 333, "1010'0"), (371.7, "C:", 384, "1018'4")]:
    fig.text(fx(xx), hy, lab, color='#222222', fontsize=hs, fontweight='bold', va='center')
    fig.text(fx(xv), hy, val, color='#c41a1a', fontsize=hs, va='center')

fig.savefig("out.png", dpi=100, facecolor=fig.get_facecolor())
